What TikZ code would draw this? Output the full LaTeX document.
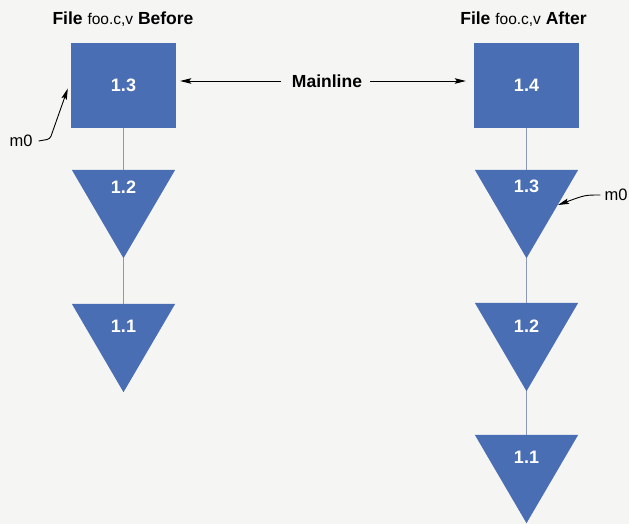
\documentclass[tikz,border=0pt]{standalone}
\usepackage{fontspec}
\setmainfont{Liberation Sans}
\usetikzlibrary{arrows.meta}
\definecolor{bg}{HTML}{F5F5F3}
\definecolor{rcsblue}{HTML}{4A6EB3}
\definecolor{linkgray}{HTML}{8D98B8}
\begin{document}
\begin{tikzpicture}[x=1pt,y=-1pt,
  sqbox/.style={rectangle,fill=rcsblue,minimum width=105pt,minimum height=85pt,inner sep=0pt,
    text=white,font=\fontsize{18}{20}\selectfont\bfseries},
  tribox/.style={rectangle,minimum width=103pt,minimum height=88pt,inner sep=0pt},
  trilabel/.style={text=white,font=\fontsize{18}{20}\selectfont\bfseries,inner sep=0pt},
  title/.style={font=\fontsize{17.5}{20}\selectfont\bfseries,inner sep=0pt},
  mainl/.style={font=\fontsize{17.5}{20}\selectfont\bfseries,inner sep=0pt},
  note/.style={font=\fontsize{16.5}{19}\selectfont,inner sep=0pt},
  link/.style={draw=linkgray,line width=1.2pt},
  pointer/.style={draw=black,line width=0.9pt,-{Stealth[length=11pt,width=5.5pt,inset=2pt]}}
]
\fill[bg] (0,0) rectangle (629,524);
\useasboundingbox (0,0) rectangle (629,524);

% titles
\node[title] (tl) at (123,19) {File {\fontsize{15.5}{16}\selectfont\mdseries foo.c,v} Before};
\node[title] (tr) at (523.5,19) {File {\fontsize{15.5}{16}\selectfont\mdseries foo.c,v} After};

% left column
\node[sqbox] (l13) at (123.5,85.5) {1.3};
\node[tribox] (l12) at (123.5,214) {};
\node[tribox] (l11) at (123.5,348) {};
\foreach \n in {l12,l11}{
  \fill[rcsblue] (\n.north west) -- (\n.north east) -- (\n.south) -- cycle;
}
\node[trilabel] (l12t) at ([yshift=-17pt]l12.north) {1.2};
\node[trilabel] (l11t) at ([yshift=-23pt]l11.north) {1.1};
\draw[link] (l13.south) -- (l12.north);
\draw[link] (l12.south) -- (l11.north);

% right column
\node[sqbox] (r14) at (526.5,85.5) {1.4};
\node[tribox] (r13) at (526.5,214) {};
\node[tribox] (r12) at (526.5,347) {};
\node[tribox] (r11) at (526.5,479) {};
\foreach \n in {r13,r12,r11}{
  \fill[rcsblue] (\n.north west) -- (\n.north east) -- (\n.south) -- cycle;
}
\node[trilabel] (r13t) at ([yshift=-17pt]r13.north) {1.3};
\node[trilabel] (r12t) at ([yshift=-23pt]r12.north) {1.2};
\node[trilabel] (r11t) at ([yshift=-23pt]r11.north) {1.1};
\draw[link] (r14.south) -- (r13.north);
\draw[link] (r13.south) -- (r12.north);
\draw[link] (r12.south) -- (r11.north);

% Mainline
\node[mainl] (ml) at (327,81) {Mainline};
\coordinate (mlA) at (ml.west -| l13.east);
\coordinate (mlB) at (ml.east -| r14.west);
\draw[pointer] ([xshift=-11pt]ml.west) -- ([xshift=4pt]mlA);
\draw[pointer] ([xshift=8pt]ml.east) -- ([xshift=-8pt]mlB);

% m0 markers
\node[note] (m0l) at (21,141) {m0};
\coordinate (m0ltip) at ([xshift=-3pt,yshift=-3pt]l13.west);
\draw[pointer,rounded corners=3pt] ([xshift=6pt]m0l.east) -- (50,139) -- (m0ltip);
\node[note] (m0r) at (616,195) {m0};
\coordinate (m0rtip) at (558,205);
\draw[pointer] ([xshift=-4pt]m0r.west) .. controls (585,195) .. (m0rtip);
\end{tikzpicture}
\end{document}
